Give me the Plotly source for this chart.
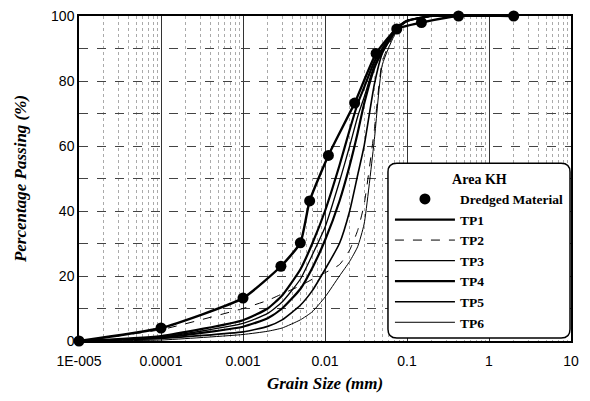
import plotly.graph_objects as go

# ---- data ----
dredged_size = [1e-5, 1e-4, 1e-3, 0.0029, 0.005, 0.0065, 0.011, 0.023, 0.042, 0.075, 0.15, 0.425, 2.0]
dredged_pass = [0, 4, 13.2, 23, 30.2, 43.1, 57.1, 73.2, 88.5, 96, 98, 100, 100]

tp_size = [1e-5, 1e-4, 1e-3, 0.002, 0.003, 0.005, 0.007, 0.01, 0.015, 0.02, 0.025, 0.03, 0.04, 0.05, 0.075, 0.1, 0.2, 0.5, 2.0]
tp1 = [0, 1.5, 6.4, 10.0, 14.0, 22.0, 30.0, 40.0, 54.0, 65.0, 73.0, 78.0, 86.0, 90.0, 96.5, 98.5, 100, 100, 100]
tp2 = [0, 3.5, 10.0, 12.5, 14.5, 17.0, 19.0, 21.0, 23.5, 28.0, 34.0, 42.0, 65.0, 86.0, 96.0, 98.5, 100, 100, 100]
tp3 = [0, 1.2, 5.4, 8.5, 12.0, 19.0, 26.5, 35.0, 49.0, 60.0, 69.0, 75.0, 85.0, 89.5, 96.5, 98.5, 100, 100, 100]
tp4 = [0, 1.0, 4.4, 7.0, 10.0, 16.0, 22.5, 31.0, 43.0, 54.0, 64.0, 73.0, 84.0, 89.0, 96.0, 98.5, 100, 100, 100]
tp5 = [0, 0.8, 2.8, 4.5, 6.5, 11.0, 15.5, 22.0, 30.0, 40.0, 51.0, 60.0, 79.0, 88.5, 96.0, 98.5, 100, 100, 100]
tp6 = [0, 0.3, 2.0, 3.0, 4.0, 6.5, 9.0, 13.5, 20.0, 24.5, 29.0, 36.0, 62.0, 85.0, 95.5, 98.5, 100, 100, 100]

tp_names = ["TP1", "TP2", "TP3", "TP4", "TP5", "TP6"]
tp_values = [tp1, tp2, tp3, tp4, tp5, tp6]

x_tickvals = [1e-5, 1e-4, 1e-3, 1e-2, 1e-1, 1, 10]
x_ticktext = ["1E-005", "0.0001", "0.001", "0.01", "0.1", "1", "10"]
y_tickvals = [0, 20, 40, 60, 80, 100]

# ---- styles ----
tp_styles = [
    dict(width=2.2, dash="solid"),
    dict(width=1.0, dash="dash"),
    dict(width=1.3, dash="solid"),
    dict(width=2.2, dash="solid"),
    dict(width=1.6, dash="solid"),
    dict(width=1.0, dash="solid"),
]

fig = go.Figure()

fig.add_trace(go.Scatter(
    x=dredged_size, y=dredged_pass, mode="lines",
    line=dict(color="black", width=2.4, shape="spline", smoothing=0.5),
    showlegend=False, hoverinfo="skip", cliponaxis=False))
fig.add_trace(go.Scatter(
    x=dredged_size, y=dredged_pass, mode="markers", name="Dredged Material",
    marker=dict(color="black", size=11), cliponaxis=False))

for name, vals, st in zip(tp_names, tp_values, tp_styles):
    fig.add_trace(go.Scatter(
        x=tp_size, y=vals, mode="lines", name=name,
        line=dict(color="black", width=st["width"], dash=st["dash"],
                  shape="spline", smoothing=0.5)))

# rounded legend box (paper coords)
x0, x1, y0, y1 = 0.628, 0.998, 0.009, 0.547
rx, ry = 0.018, 0.027
path = (f"M {x0+rx},{y0} L {x1-rx},{y0} Q {x1},{y0} {x1},{y0+ry} "
        f"L {x1},{y1-ry} Q {x1},{y1} {x1-rx},{y1} "
        f"L {x0+rx},{y1} Q {x0},{y1} {x0},{y1-ry} "
        f"L {x0},{y0+ry} Q {x0},{y0} {x0+rx},{y0} Z")
fig.add_shape(type="path", path=path, xref="paper", yref="paper",
              line=dict(color="black", width=1.5), fillcolor="white", layer="above")

serif = "Liberation Serif"
sans = "Liberation Sans"

# page body has an 8px margin, so the figure is sized/margined to compensate
fig.update_layout(
    width=574, height=385,
    margin=dict(l=71, r=11, t=8, b=52, autoexpand=False),
    paper_bgcolor="white", plot_bgcolor="white",
    font=dict(family=sans, color="black", size=14),
    legend=dict(
        x=0.632, y=0.54, xanchor="left", yanchor="top",
        bgcolor="rgba(0,0,0,0)", borderwidth=0,
        font=dict(family=serif, size=13.5, color="black", weight="bold"),
        title=dict(text="Area KH", side="top center",
                   font=dict(family=serif, size=14, color="black", weight="bold")),
        itemwidth=60, tracegroupgap=0,
    ),
    xaxis=dict(
        type="log", range=[-5, 1], automargin=False,
        tickvals=x_tickvals, ticktext=x_ticktext,
        tickfont=dict(family=sans, size=14, color="black"),
        ticklabelstandoff=6, ticklabeloverflow="allow",
        showline=True, linecolor="black", linewidth=1.5, mirror=True,
        showgrid=True, gridcolor="#333", gridwidth=1,
        minor=dict(dtick="D1", showgrid=True, gridcolor="#aaa", griddash="dot", gridwidth=1),
        ticks="", zeroline=False,
        title=dict(text="Grain Size (mm)", standoff=10,
                   font=dict(family=serif, size=17, color="black", weight="bold", style="italic")),
    ),
    yaxis=dict(
        range=[0, 100], tickvals=y_tickvals, automargin=False,
        tickfont=dict(family=sans, size=14, color="black"),
        ticklabeloverflow="allow",
        showline=True, linecolor="black", linewidth=1.5, mirror=True,
        showgrid=True, gridcolor="#444", gridwidth=1, griddash="dash",
        minor=dict(dtick=10, showgrid=True, gridcolor="#444", griddash="dash", gridwidth=1),
        ticks="", zeroline=False,
        title=dict(text="Percentage Passing (%)", standoff=20,
                   font=dict(family=serif, size=17, color="black", weight="bold", style="italic")),
    ),
)

fig.write_html("out.html")
